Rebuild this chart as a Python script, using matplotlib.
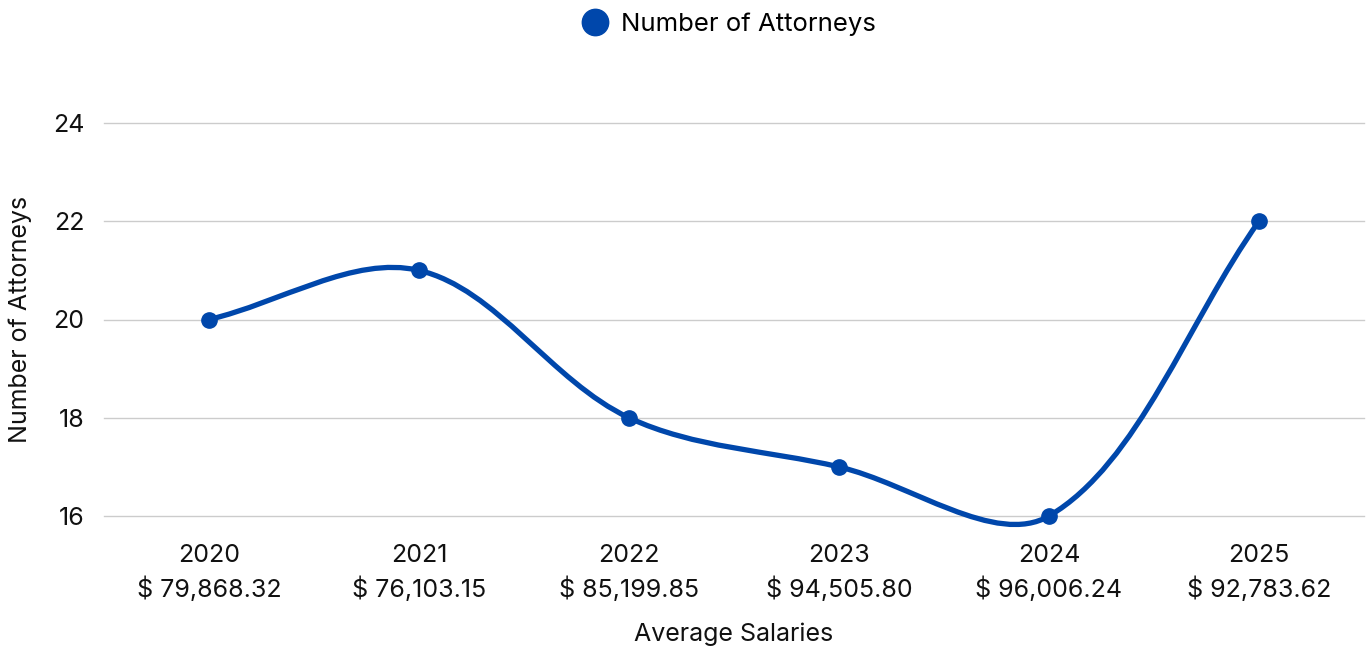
import matplotlib
matplotlib.use("Agg")
import matplotlib.pyplot as plt
from matplotlib.path import Path
from matplotlib.patches import PathPatch
from matplotlib.lines import Line2D
import numpy as np

plt.rcParams['font.family'] = ['Inter', 'DejaVu Sans']

years = ["2020", "2021", "2022", "2023", "2024", "2025"]
salaries = ["$ 79,868.32", "$ 76,103.15", "$ 85,199.85", "$ 94,505.80", "$ 96,006.24", "$ 92,783.62"]
attorneys = [20, 21, 18, 17, 16, 22]
series_name = "Number of Attorneys"

COLOR = "#0047AB"
FS = 18
fig = plt.figure(figsize=(13.7, 6.5), dpi=100)
ax = fig.add_axes([104/1370, (650-516)/650, 1260/1370, 393/650])
n = len(years)
x = np.arange(n)
ax.set_xlim(-0.5, n - 0.5)
ax.set_ylim(16, 24)
ax.set_yticks([16, 18, 20, 22, 24])
ax.set_xticks(x)
ax.set_xticklabels([f"{y}\n{s}" for y, s in zip(years, salaries)], linespacing=1.45)
for s in ax.spines.values():
    s.set_visible(False)
ax.grid(axis='y', color='#cccccc', lw=1)
ax.set_axisbelow(True)
ax.tick_params(axis='both', length=0, labelsize=FS, colors='#111111')
ax.tick_params(axis='x', pad=20)
ax.tick_params(axis='y', pad=14)
ax.set_xlabel("Average Salaries", fontsize=FS, labelpad=15, color='#111111')
ax.set_ylabel(series_name, fontsize=FS, color='#111111', va='center')
ax.yaxis.set_label_coords(-0.0667, 0.5)
for gl in ax.yaxis.get_gridlines():
    gl.set_clip_on(False)

# Chart.js-style cardinal spline computed in display space
fig.canvas.draw()
pts = ax.transData.transform(np.column_stack([x, attorneys]))
t = 0.34
verts = [tuple(pts[0])]
codes = [Path.MOVETO]
cps = []
for i in range(n):
    p = pts[i]
    prev = pts[i-1] if i > 0 else p
    nxt = pts[i+1] if i < n-1 else p
    d01 = np.hypot(*(p - prev))
    d12 = np.hypot(*(nxt - p))
    s01 = d01 / (d01 + d12) if (d01 + d12) > 0 else 0
    s12 = d12 / (d01 + d12) if (d01 + d12) > 0 else 0
    cprev = p - t * s01 * (nxt - prev)
    cnext = p + t * s12 * (nxt - prev)
    cps.append((cprev, cnext))
for i in range(n - 1):
    verts += [tuple(cps[i][1]), tuple(cps[i+1][0]), tuple(pts[i+1])]
    codes += [Path.CURVE4] * 3
inv = ax.transData.inverted()
verts_data = inv.transform(np.array(verts))
path = Path(verts_data, codes)
patch = PathPatch(path, facecolor='none', edgecolor=COLOR, lw=3.8, clip_on=False,
                  capstyle='round', joinstyle='round', zorder=3)
ax.add_patch(patch)
ax.plot(x, attorneys, 'o', color=COLOR, ms=11, clip_on=False, zorder=4)

handle = Line2D([], [], marker='o', ls='none', color=COLOR, ms=19)
fig.legend([handle], [series_name], loc='center', bbox_to_anchor=(728/1370, 1 - 24/650),
           frameon=False, fontsize=18.5, handletextpad=0.4, handlelength=1.2)

fig.savefig("out.png", dpi=100)
